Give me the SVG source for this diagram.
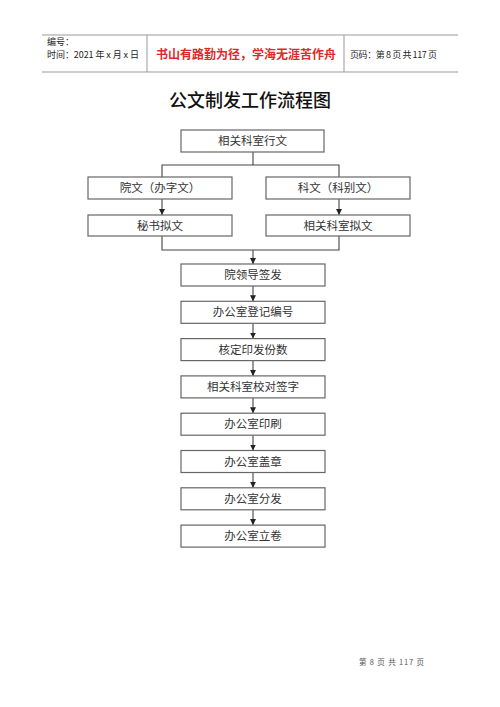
<svg xmlns="http://www.w3.org/2000/svg" width="500" height="707" viewBox="0 0 500 707">
<defs>
<marker id="ah" markerUnits="userSpaceOnUse" markerWidth="6" markerHeight="6" refX="6" refY="3" orient="auto" viewBox="0 0 6 6">
<path d="M0,0 L6,3 L0,6 Z" fill="#222"/>
</marker>
</defs>
<style>
.hl{stroke:#999;stroke-width:1;fill:none}
.ht{font-family:"Noto Sans CJK SC","Liberation Sans",sans-serif;font-size:9px;fill:#222}
.box{fill:#fff;stroke:#666;stroke-width:1.2}
.bt{font-family:"Noto Sans CJK SC",sans-serif;font-size:11.5px;fill:#333;text-anchor:middle}
.ln{stroke:#444;stroke-width:1.1;fill:none}
.ar{stroke:#444;stroke-width:1.1;fill:none;marker-end:url(#ah)}
</style>
<rect width="500" height="707" fill="#fff"/>
<g id="header">
<line class="hl" x1="42" y1="35" x2="458" y2="35"/>
<line class="hl" x1="42" y1="72" x2="458" y2="72"/>
<line class="hl" x1="147" y1="35" x2="147" y2="72"/>
<line class="hl" x1="344" y1="35" x2="344" y2="72"/>
<text class="ht" x="47" y="45">编号：</text>
<text class="ht" x="47" y="58" textLength="92" lengthAdjust="spacing">时间：2021 年 x 月 x 日</text>
<text x="246" y="59" text-anchor="middle" font-family="'Noto Sans CJK SC',sans-serif" font-size="12px" font-weight="bold" fill="#e0282a">书山有路勤为径，学海无涯苦作舟</text>
<text class="ht" x="350" y="58" textLength="87" lengthAdjust="spacing">页码：第 8 页 共 117 页</text>
</g>
<text x="250" y="107" text-anchor="middle" font-family="'Noto Sans CJK SC',sans-serif" font-size="18px" font-weight="500" fill="#111">公文制发工作流程图</text>
<g id="connectors">
<polyline class="ln" points="253,152 253,165"/>
<polyline class="ln" points="162,177 162,165 339,165 339,177"/>
<line class="ar" x1="162" y1="199" x2="162" y2="215"/>
<line class="ar" x1="339" y1="199" x2="339" y2="215"/>
<polyline class="ln" points="162,236 162,250 339,250 339,236"/>
<line class="ar" x1="253" y1="250" x2="253" y2="264"/>
<line class="ar" x1="253" y1="286" x2="253" y2="301.3"/>
<line class="ar" x1="253" y1="323.3" x2="253" y2="338.6"/>
<line class="ar" x1="253" y1="360.6" x2="253" y2="375.9"/>
<line class="ar" x1="253" y1="397.9" x2="253" y2="413.2"/>
<line class="ar" x1="253" y1="435.2" x2="253" y2="450.5"/>
<line class="ar" x1="253" y1="472.5" x2="253" y2="487.8"/>
<line class="ar" x1="253" y1="509.8" x2="253" y2="525.1"/>
</g>
<g id="n1"><rect class="box" x="181" y="130" width="143" height="22"/><text class="bt" x="252.5" y="145">相关科室行文</text></g>
<g id="n2"><rect class="box" x="88" y="177" width="144" height="22"/><text class="bt" x="160" y="192">院文（办字文）</text></g>
<g id="n3"><rect class="box" x="266" y="177" width="144" height="22"/><text class="bt" x="338" y="192">科文（科别文）</text></g>
<g id="n4"><rect class="box" x="88" y="215" width="144" height="21"/><text class="bt" x="160" y="229.5">秘书拟文</text></g>
<g id="n5"><rect class="box" x="266" y="215" width="144" height="21"/><text class="bt" x="338" y="229.5">相关科室拟文</text></g>
<g id="n6"><rect class="box" x="181" y="264" width="144" height="22"/><text class="bt" x="253" y="279">院领导签发</text></g>
<g id="n7"><rect class="box" x="181" y="301.3" width="144" height="22"/><text class="bt" x="253" y="316.3">办公室登记编号</text></g>
<g id="n8"><rect class="box" x="181" y="338.6" width="144" height="22"/><text class="bt" x="253" y="353.6">核定印发份数</text></g>
<g id="n9"><rect class="box" x="181" y="375.9" width="144" height="22"/><text class="bt" x="253" y="390.9">相关科室校对签字</text></g>
<g id="n10"><rect class="box" x="181" y="413.2" width="144" height="22"/><text class="bt" x="253" y="428.2">办公室印刷</text></g>
<g id="n11"><rect class="box" x="181" y="450.5" width="144" height="22"/><text class="bt" x="253" y="465.5">办公室盖章</text></g>
<g id="n12"><rect class="box" x="181" y="487.8" width="144" height="22"/><text class="bt" x="253" y="502.8">办公室分发</text></g>
<g id="n13"><rect class="box" x="181" y="525.1" width="144" height="22"/><text class="bt" x="253" y="540.1">办公室立卷</text></g>
<text x="359" y="665" font-family="'Noto Sans CJK SC',sans-serif" font-size="7.5px" fill="#555" textLength="65" lengthAdjust="spacing">第 8 页 共 117 页</text>
</svg>
